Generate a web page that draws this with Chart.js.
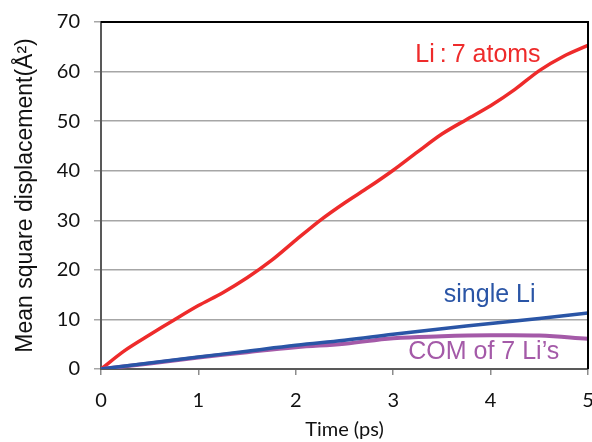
<!DOCTYPE html>
<html>
<head>
<meta charset="utf-8">
<script src="https://cdn.jsdelivr.net/npm/chart.js@4/dist/chart.umd.min.js"></script>
<style>
  html, body { margin: 0; padding: 0; background: #fff; }
  #wrap { width: 592px; height: 442px; }
</style>
</head>
<body>
<div id="wrap"><canvas id="chart-msd" width="592" height="442"></canvas></div>
<script>
// time axis (ps)
var timeRed = [0, 0.25, 0.5, 0.75, 1, 1.25, 1.5, 1.75, 2, 2.25, 2.5, 2.75, 3, 3.25, 3.5, 3.75, 4, 4.25, 4.5, 4.75, 5];
var li7Atoms = [0, 3.8, 6.9, 9.9, 12.8, 15.4, 18.4, 21.9, 26.0, 30.0, 33.5, 36.7, 40.1, 43.8, 47.4, 50.3, 53.1, 56.4, 60.2, 63.1, 65.3];

var timeSmall = [0, 0.5, 1, 1.5, 2, 2.5, 3, 3.5, 4, 4.5, 5];
var singleLi = [0, 1.2, 2.4, 3.6, 4.8, 5.8, 7.0, 8.1, 9.2, 10.2, 11.3];
var comLi = [0, 1.1, 2.3, 3.4, 4.4, 5.1, 6.2, 6.6, 6.8, 6.75, 6.1];

var xTicks = [0, 1, 2, 3, 4, 5];
var yTicks = [0, 10, 20, 30, 40, 50, 60, 70];

// text labels placed in data coordinates
var labels = [
    { text: 'Li\u2009:\u20097 atoms', x: 3.87, y: 63.3, color: '#ee2b2b' },
    { text: 'single Li', x: 3.99, y: 14.9, color: '#2a55a6' },
    { text: 'COM of 7 Li\u2019s', x: 3.93, y: 3.4, color: '#a45aa8' }
];

function toPoints(xs, ys) {
    return xs.map(function (x, i) { return { x: x, y: ys[i] }; });
}

var textPlugin = {
    id: 'seriesText',
    afterDatasetsDraw: function (chart) {
        var c = chart.ctx;
        var sx = chart.scales.x, sy = chart.scales.y;
        c.save();
        c.font = '25px "Liberation Sans", Arial, sans-serif';
        c.textAlign = 'center';
        c.textBaseline = 'middle';
        labels.forEach(function (l) {
            c.fillStyle = l.color;
            c.fillText(l.text, sx.getPixelForValue(l.x), sy.getPixelForValue(l.y));
        });
        c.restore();
    }
};

var framePlugin = {
    id: 'frame',
    afterDraw: function (chart) {
        var a = chart.chartArea, c = chart.ctx;
        c.save();
        c.strokeStyle = '#000';
        c.lineWidth = 2;
        c.beginPath();
        c.moveTo(a.left, a.top);
        c.lineTo(a.right, a.top);
        c.lineTo(a.right, a.bottom);
        c.stroke();
        c.restore();
    }
};

var tickFont = { family: 'Lato, "Open Sans", sans-serif', size: 20 };

var ctx = document.getElementById('chart-msd').getContext('2d');
var chart = new Chart(ctx, {
    type: 'line',
    data: {
        datasets: [{
            label: 'single Li',
            data: toPoints(timeSmall, singleLi),
            borderColor: '#2a55a6',
            borderWidth: 3.5,
            pointRadius: 0,
            tension: 0.4
        }, {
            label: 'COM of 7 Li\u2019s',
            data: toPoints(timeSmall, comLi),
            borderColor: '#a45aa8',
            borderWidth: 4,
            pointRadius: 0,
            tension: 0.4
        }, {
            label: 'Li:7 atoms',
            data: toPoints(timeRed, li7Atoms),
            borderColor: '#ee2b2b',
            borderWidth: 3.5,
            pointRadius: 0,
            tension: 0.3
        }]
    },
    options: {
        responsive: false,
        animation: false,
        layout: { padding: { left: 0, top: 22, right: 4, bottom: 0 } },
        plugins: { legend: { display: false }, tooltip: { enabled: false } },
        scales: {
            x: {
                type: 'linear',
                min: 0, max: 5,
                afterBuildTicks: function (s) { s.ticks = xTicks.map(function (v) { return { value: v }; }); },
                afterFit: function (s) { s.height = 73; s.paddingLeft = 0; s.paddingRight = 0; },
                ticks: { color: '#111', font: tickFont, padding: 14, maxRotation: 0 },
                grid: { drawOnChartArea: false, color: '#8c8c8c', tickLength: 6, lineWidth: 1.5 },
                border: { color: '#595959', width: 2 },
                title: {
                    display: true, text: 'Time (ps)', color: '#111',
                    font: { family: 'Lato, "Open Sans", sans-serif', size: 20 },
                    padding: { top: 0, bottom: 0 }
                }
            },
            y: {
                min: 0, max: 70,
                afterBuildTicks: function (s) { s.ticks = yTicks.map(function (v) { return { value: v }; }); },
                afterFit: function (s) { s.width = 101; s.paddingTop = 0; s.paddingBottom = 0; },
                ticks: { color: '#111', font: tickFont, padding: 14 },
                grid: { color: '#a6a6a6', lineWidth: 1.5, tickLength: 7 },
                border: { color: '#595959', width: 2 },
                title: {
                    display: true, text: 'Mean square displacement(\u00C5\u00B2)', color: '#111',
                    font: { family: '"Liberation Sans", Arial, sans-serif', size: 23 },
                    padding: { top: 12, bottom: 0 }
                }
            }
        }
    },
    plugins: [textPlugin, framePlugin]
});
</script>
</body>
</html>
